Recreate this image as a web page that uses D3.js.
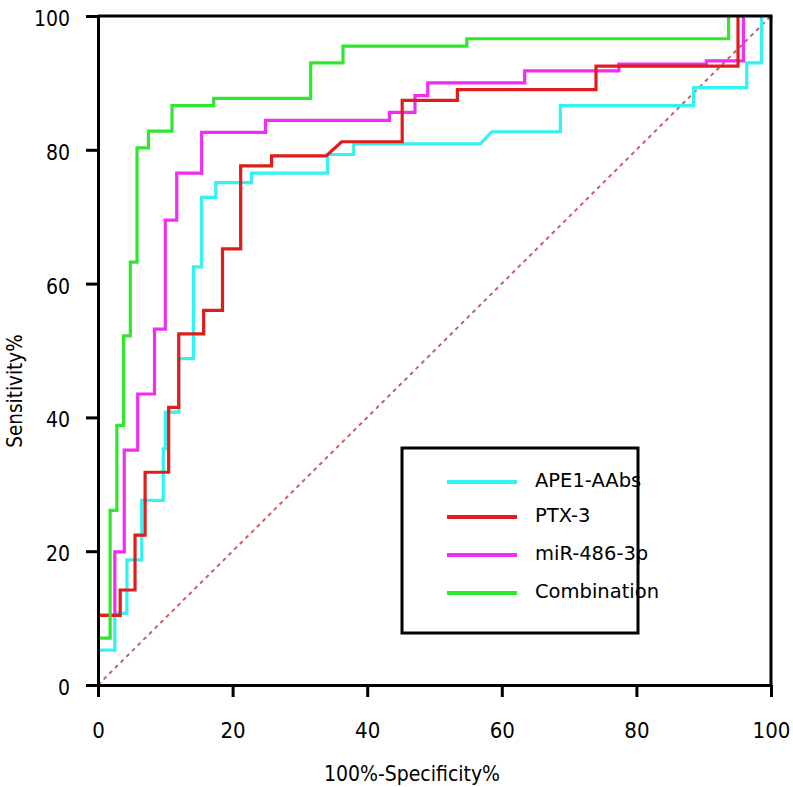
<!DOCTYPE html>
<html><head><meta charset="utf-8">
<script src="https://cdn.jsdelivr.net/npm/d3@7"></script>
<style>body{margin:0;background:#fff}svg{display:block}</style>
</head><body>
<script>
const seriesNames = ["APE1-AAbs","PTX-3","miR-486-3p","Combination"];
const seriesColors = ["#33f2f2","#e01c1c","#f22cf2","#2ee82e"];
const xTicks = [0,20,40,60,80,100];
const yTicks = [0,20,40,60,80,100];
// ROC vertices: [100%-Specificity%, Sensitivity%]
const ape1 = [[0,5.2],[2.5,5.2],[2.5,10.7],[4.3,10.7],[4.3,18.7],[6.5,18.7],[6.5,27.6],[9.7,27.6],[9.7,35.3],[10.0,35.3],[10.0,40.8],[12.0,40.8],[12.0,48.8],[14.2,48.8],[14.2,62.5],[15.4,62.5],[15.4,72.9],[17.5,72.9],[17.5,75.1],[22.8,75.1],[22.8,76.5],[34.1,76.5],[34.1,79.3],[38.0,79.3],[38.0,80.9],[56.8,80.9],[58.5,82.7],[68.7,82.7],[68.7,86.6],[88.5,86.6],[88.5,89.3],[96.4,89.3],[96.4,93.0],[98.6,93.0],[98.6,100]];
const ptx3 = [[0,10.4],[3.3,10.4],[3.3,14.2],[5.5,14.2],[5.5,22.4],[7.0,22.4],[7.0,31.8],[10.5,31.8],[10.5,41.5],[12.0,41.5],[12.0,52.5],[15.7,52.5],[15.7,56.0],[18.5,56.0],[18.5,65.2],[21.2,65.2],[21.2,77.6],[25.8,77.6],[25.8,79.1],[33.9,79.1],[36.2,81.2],[45.2,81.2],[45.2,87.4],[53.4,87.4],[53.4,89.0],[74.0,89.0],[74.0,92.5],[95.1,92.5],[95.1,100]];
const mir486 = [[0,10.4],[2.5,10.4],[2.5,19.9],[3.9,19.9],[3.9,35.1],[5.9,35.1],[5.9,43.5],[8.4,43.5],[8.4,53.2],[10.0,53.2],[10.0,69.5],[11.7,69.5],[11.7,76.5],[15.4,76.5],[15.4,82.6],[24.9,82.6],[24.9,84.4],[43.3,84.4],[43.3,85.6],[47.1,85.6],[47.1,88.1],[49.0,88.1],[49.0,90.0],[63.4,90.0],[63.4,91.8],[77.4,91.8],[77.4,92.8],[90.4,92.8],[90.4,93.3],[95.9,93.3],[95.9,100]];
const combination = [[0,7.0],[1.8,7.0],[1.8,26.1],[2.8,26.1],[2.8,38.8],[3.8,38.8],[3.8,52.2],[4.8,52.2],[4.8,63.2],[5.8,63.2],[5.8,80.3],[7.5,80.3],[7.5,82.8],[11.0,82.8],[11.0,86.6],[17.2,86.6],[17.2,87.7],[31.6,87.7],[31.6,93.0],[36.4,93.0],[36.4,95.5],[54.8,95.5],[54.8,96.6],[93.7,96.6],[93.7,100]];
const referenceLine = [[0,0],[100,100]];
const xTitle = "100%-Specificity%";
const yTitle = "Sensitivity%";

const W = 793, H = 787;
const svg = d3.select("body").append("svg").attr("width", W).attr("height", H);
const x = d3.scaleLinear().domain([0,100]).range([98,771]);
const y = d3.scaleLinear().domain([0,100]).range([685,16]);
const line = d3.line().x(d => x(d[0])).y(d => y(d[1]));
const condensed = "'DejaVu Sans Condensed','DejaVu Sans',sans-serif";

// reference diagonal
svg.append("path").attr("d", line(referenceLine)).attr("fill","none")
  .attr("stroke","#c8606a").attr("stroke-width",2).attr("stroke-dasharray","4,4");

// curves (draw order)
const curves = [ape1, mir486, ptx3, combination];
const curveColors = [seriesColors[0], seriesColors[2], seriesColors[1], seriesColors[3]];
curves.forEach((c,i) => {
  svg.append("path").attr("d", line(c)).attr("fill","none")
    .attr("stroke", curveColors[i]).attr("stroke-width",3.2)
    .attr("stroke-linejoin","miter").attr("stroke-linecap","butt");
});

// frame top & right
svg.append("line").attr("x1",x(0)).attr("x2",x(100)+1.5).attr("y1",y(100)).attr("y2",y(100)).attr("stroke","#000").attr("stroke-width",3);
svg.append("line").attr("x1",x(100)).attr("x2",x(100)).attr("y1",y(100)).attr("y2",y(0)).attr("stroke","#000").attr("stroke-width",3);

// axes
const xAxis = svg.append("g").attr("transform",`translate(0,${y(0)})`)
  .call(d3.axisBottom(x).tickValues(xTicks).tickSize(12).tickPadding(25).tickSizeOuter(0));
const yAxis = svg.append("g").attr("transform",`translate(${x(0)},0)`)
  .call(d3.axisLeft(y).tickValues(yTicks).tickSize(12).tickPadding(16).tickSizeOuter(0));
[xAxis,yAxis].forEach(g => {
  g.select(".domain").attr("stroke","#000").attr("stroke-width",3);
  g.selectAll(".tick line").attr("stroke","#000").attr("stroke-width",3);
});
xAxis.selectAll(".tick text").attr("fill","#000")
  .style("font-family",condensed).style("font-size","22px");
yAxis.selectAll(".tick text").attr("fill","#000").attr("dy","0.45em")
  .style("font-family",condensed).style("font-size","21px");

// titles
svg.append("text").attr("x",412).attr("y",781).attr("text-anchor","middle")
  .style("font-family",condensed).style("font-size","21px")
  .text(xTitle);
svg.append("text").attr("transform","translate(22,391) rotate(-90)").attr("text-anchor","middle")
  .style("font-family",condensed).style("font-size","20.5px")
  .text(yTitle);

// legend
const lg = svg.append("g");
lg.append("rect").attr("x",402).attr("y",448).attr("width",236).attr("height",185)
  .attr("fill","#fff").attr("stroke","#000").attr("stroke-width",3);
const rowY = [482,517,555,593];
seriesNames.forEach((n,i) => {
  lg.append("line").attr("x1",447).attr("x2",517).attr("y1",rowY[i]).attr("y2",rowY[i])
    .attr("stroke",seriesColors[i]).attr("stroke-width",4);
  lg.append("text").attr("x",535).attr("y",rowY[i]-2).attr("dy","0.36em")
    .style("font-family","'DejaVu Sans',sans-serif").style("font-size","19.5px").text(n);
});
</script>
</body></html>
